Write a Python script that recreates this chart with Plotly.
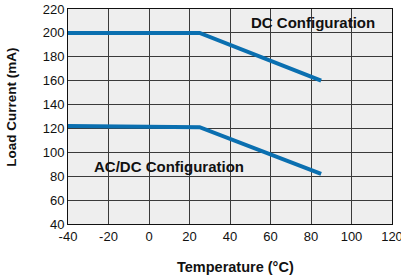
import plotly.graph_objects as go

temp_dc = [-40, 25, 85]
current_dc = [200, 200, 160]
temp_acdc = [-40, 25, 85]
current_acdc = [122, 121, 82]
x_ticks = [-40, -20, 0, 20, 40, 60, 80, 100, 120]
y_ticks = [40, 60, 80, 100, 120, 140, 160, 180, 200, 220]

line_color = "#0a6fb0"
fig = go.Figure()
fig.add_trace(go.Scatter(x=temp_dc, y=current_dc, mode="lines",
                         line=dict(color=line_color, width=4), showlegend=False))
fig.add_trace(go.Scatter(x=temp_acdc, y=current_acdc, mode="lines",
                         line=dict(color=line_color, width=4), showlegend=False))

font = "Liberation Sans, Arial, sans-serif"
fig.add_annotation(x=81, y=209, text="<b>DC Configuration</b>", showarrow=False,
                   font=dict(family=font, size=15, color="#111"), xanchor="center", yanchor="middle")
fig.add_annotation(x=10, y=88, text="<b>AC/DC Configuration</b>", showarrow=False,
                   font=dict(family=font, size=15, color="#111"), xanchor="center", yanchor="middle")
# axis titles
fig.add_annotation(xref="paper", yref="paper", x=0.517, y=-0.2,
                   text="<b>Temperature (°C)</b>", showarrow=False,
                   font=dict(family=font, size=14.5, color="#111"),
                   xanchor="center", yanchor="middle")
fig.add_annotation(xref="paper", yref="paper", x=-0.173, y=0.545,
                   text="<b>Load Current (mA)</b>", showarrow=False, textangle=-90,
                   font=dict(family=font, size=13.5, color="#111"),
                   xanchor="center", yanchor="middle")

fig.update_layout(
    width=401, height=276,
    margin=dict(l=68, r=9, t=9, b=52),
    paper_bgcolor="white", plot_bgcolor="#eeeeee",
    font=dict(family=font, size=13, color="#111"),
)
fig.update_xaxes(range=[-40, 120], tickvals=x_ticks, ticktext=[str(v) for v in x_ticks],
                 showgrid=True, gridcolor="#3a3a3a", gridwidth=1,
                 showline=True, linecolor="#111", linewidth=1, mirror=True,
                 ticks="", zeroline=False, automargin=False, ticklabeloverflow="allow",
                 tickfont=dict(size=13))
fig.update_yaxes(range=[40, 220], tickvals=y_ticks, ticktext=[str(v) for v in y_ticks],
                 showgrid=True, gridcolor="#3a3a3a", gridwidth=1,
                 showline=True, linecolor="#111", linewidth=1, mirror=True,
                 ticks="", zeroline=False, automargin=False, ticklabeloverflow="allow",
                 tickfont=dict(size=13))

fig.write_html("out.html", config={"displayModeBar": False},
               post_script="document.body.style.margin='0';document.body.style.overflow='hidden';")
